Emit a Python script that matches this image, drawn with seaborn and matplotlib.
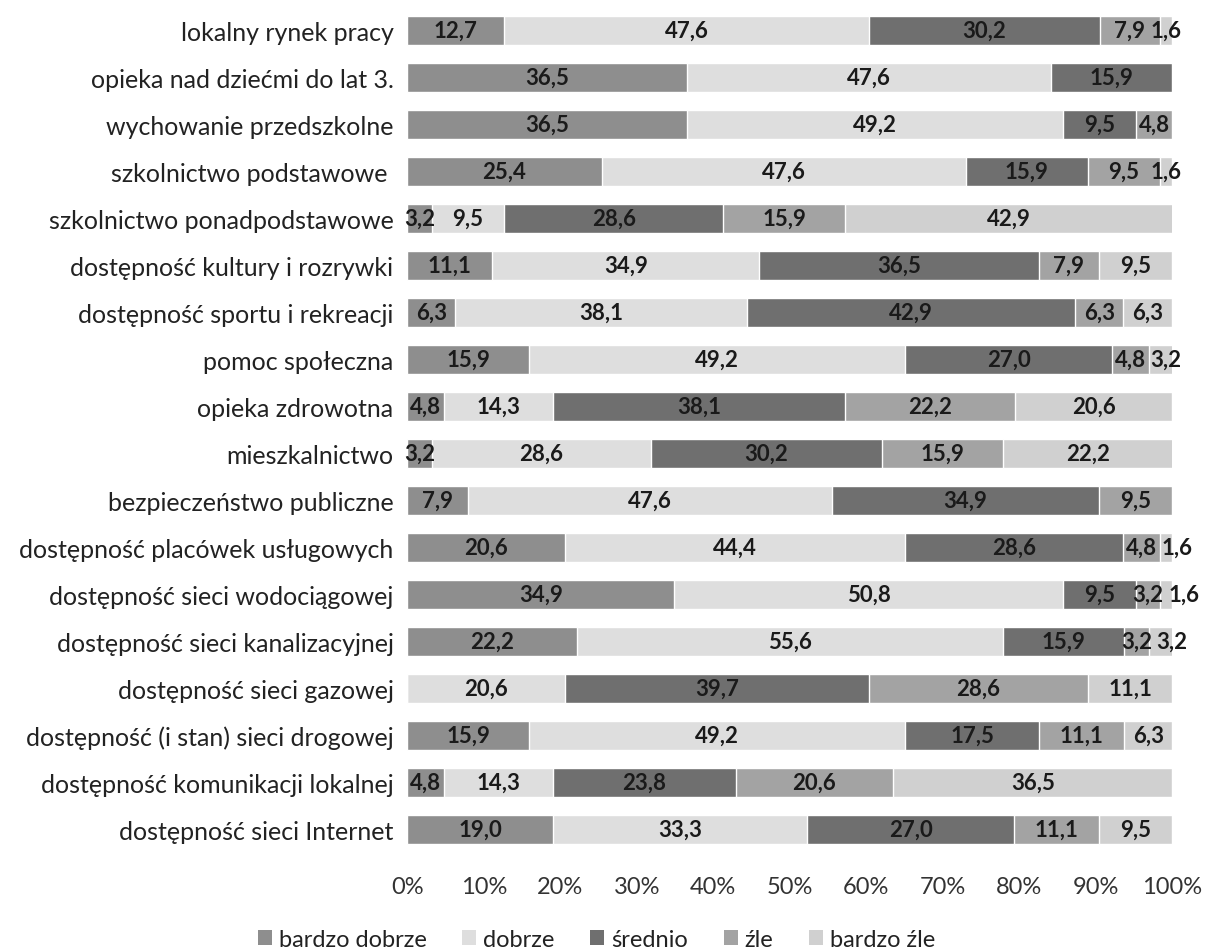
import numpy as np
import pandas as pd
import matplotlib
matplotlib.use("Agg")
import matplotlib.pyplot as plt
import seaborn as sns
from matplotlib.patches import Patch

categories = [
    "lokalny rynek pracy",
    "opieka nad dziećmi do lat 3.",
    "wychowanie przedszkolne",
    "szkolnictwo podstawowe ",
    "szkolnictwo ponadpodstawowe",
    "dostępność kultury i rozrywki",
    "dostępność sportu i rekreacji",
    "pomoc społeczna",
    "opieka zdrowotna",
    "mieszkalnictwo",
    "bezpieczeństwo publiczne",
    "dostępność placówek usługowych",
    "dostępność sieci wodociągowej",
    "dostępność sieci kanalizacyjnej",
    "dostępność sieci gazowej",
    "dostępność (i stan) sieci drogowej",
    "dostępność komunikacji lokalnej",
    "dostępność sieci Internet",
]
series_names = ["bardzo dobrze", "dobrze", "średnio", "źle", "bardzo źle"]
bardzo_dobrze = [12.7, 36.5, 36.5, 25.4, 3.2, 11.1, 6.3, 15.9, 4.8, 3.2, 7.9, 20.6, 34.9, 22.2, 0.0, 15.9, 4.8, 19.0]
dobrze        = [47.6, 47.6, 49.2, 47.6, 9.5, 34.9, 38.1, 49.2, 14.3, 28.6, 47.6, 44.4, 50.8, 55.6, 20.6, 49.2, 14.3, 33.3]
srednio       = [30.2, 15.9, 9.5, 15.9, 28.6, 36.5, 42.9, 27.0, 38.1, 30.2, 34.9, 28.6, 9.5, 15.9, 39.7, 17.5, 23.8, 27.0]
zle           = [7.9, 0.0, 4.8, 9.5, 15.9, 7.9, 6.3, 4.8, 22.2, 15.9, 9.5, 4.8, 3.2, 3.2, 28.6, 11.1, 20.6, 11.1]
bardzo_zle    = [1.6, 0.0, 0.0, 1.6, 42.9, 9.5, 6.3, 3.2, 20.6, 22.2, 0.0, 1.6, 1.6, 3.2, 11.1, 6.3, 36.5, 9.5]
tick_labels = ["0%", "10%", "20%", "30%", "40%", "50%", "60%", "70%", "80%", "90%", "100%"]

colors = ["#8e8e8e", "#dedede", "#6f6f6f", "#a3a3a3", "#d0d0d0"]

sns.set_theme(style="white")
plt.rcParams["font.family"] = ["Lato", "DejaVu Sans"]

data = np.array([bardzo_dobrze, dobrze, srednio, zle, bardzo_zle])
cum = np.cumsum(data, axis=0)

fig = plt.figure(figsize=(12.05, 9.53), dpi=100)
ax = fig.add_axes([0.338, 0.104, 0.635, 0.888])

for i in range(len(series_names) - 1, -1, -1):
    df = pd.DataFrame({"cat": categories, "val": cum[i]})
    sns.barplot(data=df, x="val", y="cat", orient="h", color=colors[i],
                saturation=1, width=0.62, ax=ax, order=categories)

ax.set_xlim(0, 100)
ax.set_ylim(len(categories) - 0.5, -0.5)
ax.set_xticks(np.arange(0, 101, 10))
ax.set_xticklabels(tick_labels)
ax.set_xlabel("")
ax.set_ylabel("")
ax.tick_params(axis="x", labelsize=17, pad=17, length=0, colors="#333333")
ax.tick_params(axis="y", labelsize=18, pad=10, length=0, colors="#222222")
for s in ax.spines.values():
    s.set_visible(False)

fig.canvas.draw()
renderer = fig.canvas.get_renderer()
inv = ax.transData.inverted()
for j in range(len(categories)):
    prev_right = None
    for i in range(len(series_names)):
        v = data[i, j]
        if v <= 0:
            continue
        xc = cum[i, j] - v / 2
        t = ax.text(xc, j, f"{v:.1f}".replace(".", ","), ha="center", va="center",
                    fontsize=16, fontweight="bold", color="#1a1a1a")
        bb = t.get_window_extent(renderer)
        x0 = inv.transform((bb.x0, 0))[0]
        x1 = inv.transform((bb.x1, 0))[0]
        if prev_right is not None and x0 < prev_right + 0.6:
            shift = prev_right + 0.6 - x0
            t.set_x(xc + shift)
            x1 += shift
        prev_right = x1

handles = [Patch(facecolor=c, edgecolor="none") for c in colors]
fig.legend(handles, series_names, loc="center", bbox_to_anchor=(0.495, 0.013),
           ncol=5, frameon=False, fontsize=17, handlelength=0.6, handleheight=0.6,
           handletextpad=0.3, columnspacing=1.5, labelcolor="#222222")

fig.savefig("out.png", dpi=100, facecolor="white")
